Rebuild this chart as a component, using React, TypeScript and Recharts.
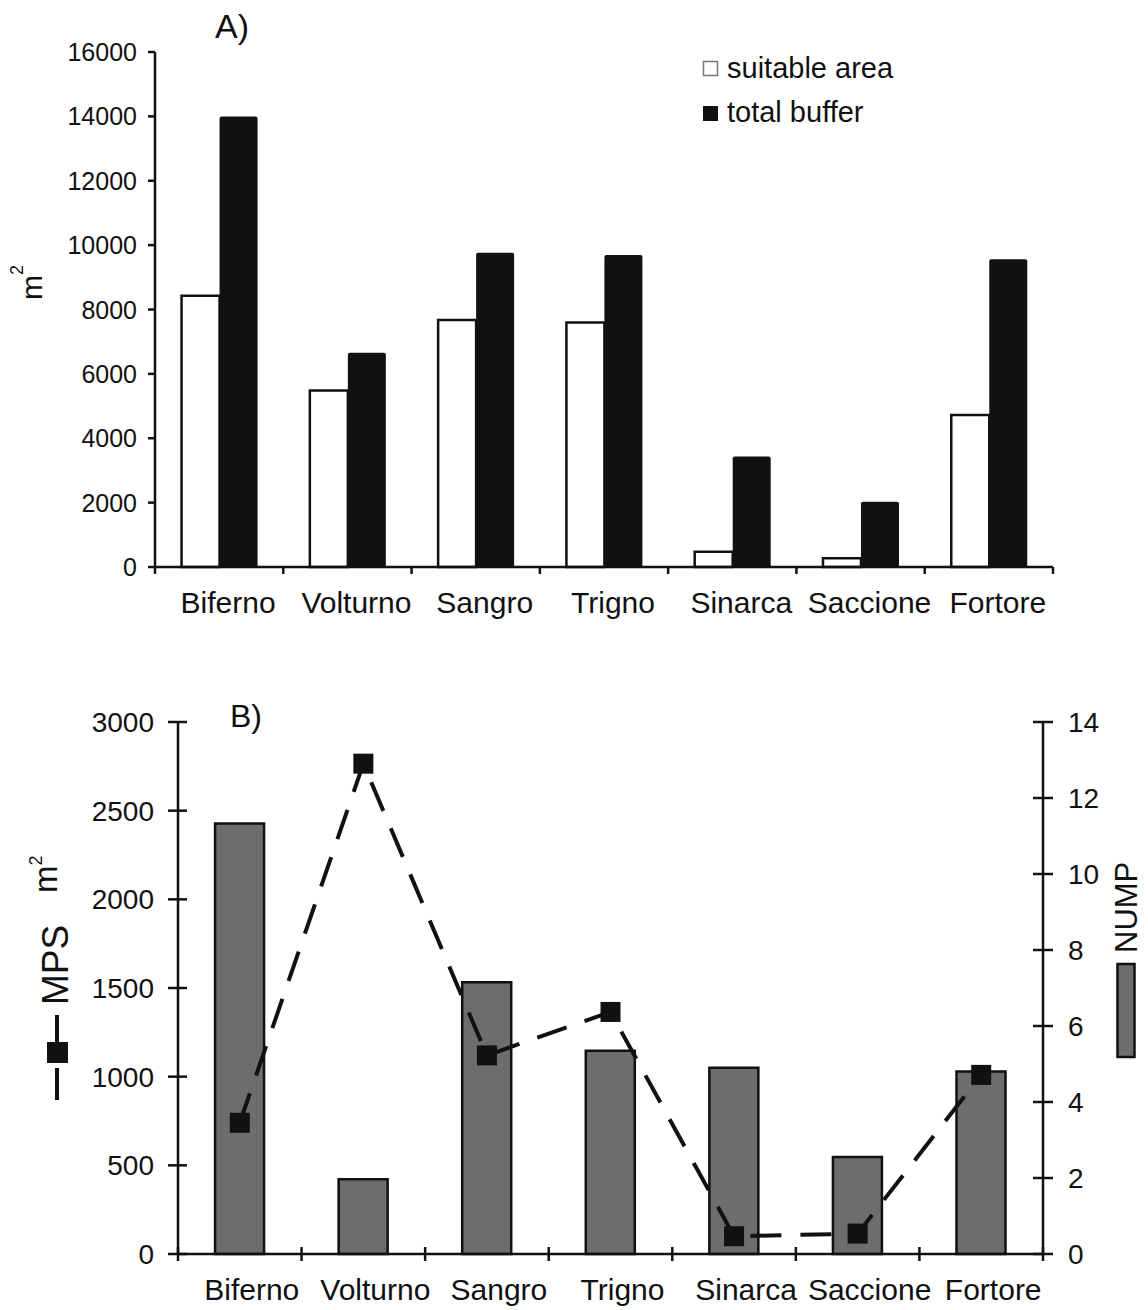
import { BarChart, Bar, ComposedChart, Line, XAxis, YAxis } from 'recharts';

// rivers, shared by both panels
const categories = ['Biferno', 'Volturno', 'Sangro', 'Trigno', 'Sinarca', 'Saccione', 'Fortore'];

// panel A, m2
const suitableArea = [8430, 5480, 7670, 7600, 475, 270, 4720];
const totalBuffer = [14000, 6660, 9760, 9690, 3430, 2030, 9560];
const areaTicks = [0, 2000, 4000, 6000, 8000, 10000, 12000, 14000, 16000];

// panel B, mean patch size (m2) and number of patches
const mps = [740, 2765, 1120, 1365, 100, 115, 1010];
const nump = [11.33, 1.97, 7.15, 5.35, 4.9, 2.55, 4.8];
const mpsTicks = [0, 500, 1000, 1500, 2000, 2500, 3000];
const numpTicks = [0, 2, 4, 6, 8, 10, 12, 14];

const INK = '#111111';
const BAR_GREY = '#6d6d6d';
const FONT = '"Liberation Sans", Arial, Helvetica, sans-serif';

const areaData = categories.map((river, i) => ({ river, suitable: suitableArea[i], buffer: totalBuffer[i] }));
const patchData = categories.map((river, i) => ({ river, mps: mps[i], nump: nump[i] }));

// category labels, with tick marks on the band edges instead of the centres
function RiverTick(props: any) {
  const { x, y, payload, up, band, shift } = props;
  const half = payload?.offset ? payload.offset : band / 2;
  const last = payload.value === categories[categories.length - 1];
  return (
    <g>
      <line x1={x - half} x2={x - half} y1={y - up} y2={y + 7} stroke={INK} strokeWidth={2.5} />
      {last && <line x1={x + half} x2={x + half} y1={y - up} y2={y + 7} stroke={INK} strokeWidth={2.5} />}
      <text x={x + shift} y={y + 46} textAnchor="middle" fontSize={30} fill={INK} fontFamily={FONT}>
        {payload.value}
      </text>
    </g>
  );
}

function makeValueTick(side: 'left' | 'right', outer: number, inner: number, gap: number, size: number) {
  return (props: any) => {
    const { x, y, payload } = props;
    const dir = side === 'left' ? -1 : 1;
    return (
      <g>
        <line x1={x - dir * inner} x2={x + dir * outer} y1={y} y2={y} stroke={INK} strokeWidth={2.5} />
        <text
          x={x + dir * gap}
          y={y}
          dy="0.36em"
          textAnchor={side === 'left' ? 'end' : 'start'}
          fontSize={size}
          fill={INK}
          fontFamily={FONT}
        >
          {payload.value}
        </text>
      </g>
    );
  };
}

const areaTick = makeValueTick('left', 7, 0, 18, 25);
const mpsTick = makeValueTick('left', 10, 9, 24, 28);
const numpTick = makeValueTick('right', 10, 10, 25, 28);

const renderSquare = (p: any) => (
  <rect key={`sq-${p.index}`} x={p.cx - 10} y={p.cy - 10} width={20} height={20} fill={INK} />
);

const axisLine = { stroke: INK, strokeWidth: 2.5 };
const overlay = { position: 'absolute' as const, left: 0, top: 0, pointerEvents: 'none' as const };

function PanelA() {
  return (
    <div style={{ position: 'absolute', left: 0, top: 0, width: 1148, height: 650 }}>
      <BarChart
        width={1148}
        height={650}
        data={areaData}
        margin={{ top: 52, right: 95, bottom: 23, left: 0 }}
        barGap={0}
        barCategoryGap="20.7%"
      >
        <XAxis
          dataKey="river"
          height={60}
          axisLine={axisLine}
          tickLine={false}
          tickSize={0}
          tickMargin={0}
          interval={0}
          tick={(p: any) => <RiverTick {...p} up={0} band={128.3} shift={9} />}
        />
        <YAxis
          width={155}
          domain={[0, 16000]}
          ticks={areaTicks}
          interval={0}
          axisLine={axisLine}
          tickLine={false}
          tickSize={0}
          tickMargin={0}
          tick={areaTick}
        />
        <Bar dataKey="suitable" fill="#ffffff" stroke={INK} strokeWidth={2.5} isAnimationActive={false} />
        <Bar dataKey="buffer" fill={INK} radius={[2, 2, 0, 0]} isAnimationActive={false} />
      </BarChart>
      <svg width={1148} height={650} style={overlay} fontFamily={FONT}>
        <text x={215} y={38} fontSize={34} fill={INK}>A)</text>
        <text x={42} y={300} transform="rotate(-90 42 300)" fontSize={30} fill={INK}>
          m<tspan fontSize={18} dy={-19}>2</tspan>
        </text>
        <rect x={703.5} y={61.5} width={14} height={14} fill="#ffffff" stroke="#777777" strokeWidth={1.5} />
        <text x={727} y={78} fontSize={29} fill={INK}>suitable area</text>
        <rect x={703} y={106} width={15} height={15} fill={INK} />
        <text x={727} y={122} fontSize={29} fill={INK}>total buffer</text>
      </svg>
    </div>
  );
}

function PanelB() {
  return (
    <div style={{ position: 'absolute', left: 0, top: 650, width: 1148, height: 660 }}>
      <ComposedChart
        width={1148}
        height={660}
        data={patchData}
        margin={{ top: 72, right: 0, bottom: 0, left: 0 }}
        barCategoryGap="30%"
      >
        <XAxis
          dataKey="river"
          height={56}
          axisLine={axisLine}
          tickLine={false}
          tickSize={0}
          tickMargin={0}
          interval={0}
          tick={(p: any) => <RiverTick {...p} up={7} band={123.57} shift={12} />}
        />
        <YAxis
          yAxisId="left"
          width={178}
          domain={[0, 3000]}
          ticks={mpsTicks}
          interval={0}
          axisLine={axisLine}
          tickLine={false}
          tickSize={0}
          tickMargin={0}
          tick={mpsTick}
        />
        <YAxis
          yAxisId="right"
          orientation="right"
          width={105}
          domain={[0, 14]}
          ticks={numpTicks}
          interval={0}
          axisLine={axisLine}
          tickLine={false}
          tickSize={0}
          tickMargin={0}
          tick={numpTick}
        />
        <Bar
          yAxisId="right"
          dataKey="nump"
          fill={BAR_GREY}
          stroke={INK}
          strokeWidth={2.5}
          isAnimationActive={false}
        />
        <Line
          yAxisId="left"
          type="linear"
          dataKey="mps"
          stroke={INK}
          strokeWidth={4}
          strokeDasharray="31 19"
          dot={renderSquare}
          activeDot={false}
          isAnimationActive={false}
        />
      </ComposedChart>
      <svg width={1148} height={660} style={overlay} fontFamily={FONT}>
        <text x={230} y={77} fontSize={32} fill={INK}>B)</text>
        <text x={68} y={355} transform="rotate(-90 68 355)" fontSize={37} fill={INK}>MPS</text>
        <text x={57} y={243} transform="rotate(-90 57 243)" fontSize={33} fill={INK}>
          m<tspan fontSize={18} dy={-15}>2</tspan>
        </text>
        <line x1={57} x2={57} y1={365} y2={392} stroke={INK} strokeWidth={4} />
        <rect x={47} y={392} width={21} height={21} fill={INK} />
        <line x1={57} x2={57} y1={418} y2={450} stroke={INK} strokeWidth={4} />
        <text x={1137} y={303} transform="rotate(-90 1137 303)" fontSize={31} fill={INK}>NUMP</text>
        <rect x={1117.5} y={314} width={17} height={93} fill={BAR_GREY} stroke={INK} strokeWidth={2.5} />
      </svg>
    </div>
  );
}

export default function App() {
  return (
    <div style={{ position: 'absolute', left: 0, top: 0, width: 1148, height: 1310, background: '#ffffff' }}>
      <PanelA />
      <PanelB />
    </div>
  );
}
